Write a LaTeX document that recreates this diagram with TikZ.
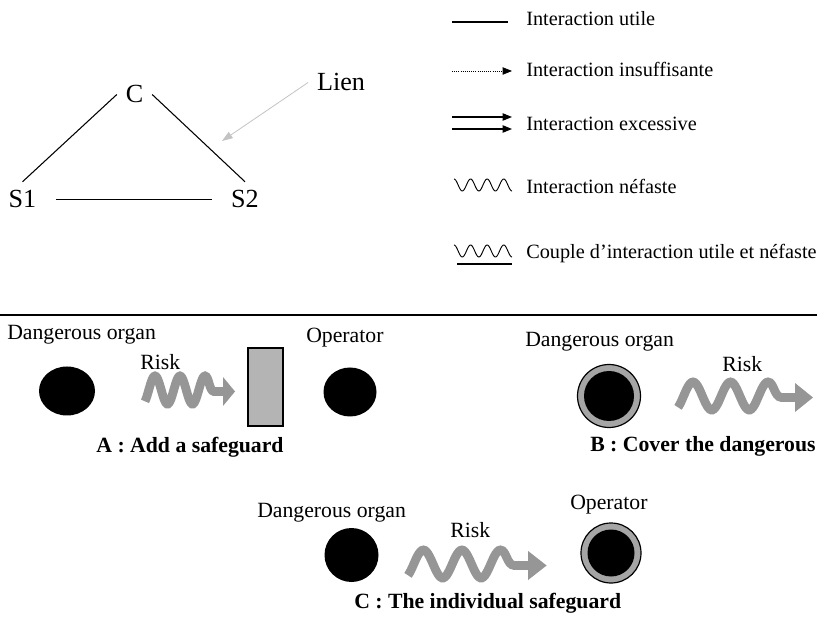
\documentclass[tikz,border=0pt]{standalone}
\usepackage{fontspec}
\setmainfont{Liberation Serif}
\usepackage{tikz}
\usepackage{xcolor}
\usetikzlibrary{arrows.meta,positioning}

\definecolor{riskgray}{RGB}{150,150,150}
\definecolor{guardgray}{RGB}{180,180,180}
\definecolor{ringgray}{RGB}{165,165,165}
\definecolor{liengray}{RGB}{195,195,195}

\tikzset{
  bigtext/.style={font=\fontsize{19.6}{23}\selectfont, inner sep=6.5pt},
  legtext/.style={font=\fontsize{15.2}{18}\selectfont, inner sep=0pt, anchor=base west},
  lowtext/.style={font=\fontsize{16.3}{19}\selectfont, inner sep=0pt, anchor=base west},
  captext/.style={font=\fontsize{16.3}{19}\selectfont\bfseries, inner sep=0pt, anchor=base west},
  legtip/.style={-{Triangle[length=7pt,width=5.5pt]}},
  % risk: thick grey wave ending in a flat arrow
  riskwave/.pic={
    \draw[riskgray, line width=6.6pt] plot[domain=0:60, samples=61, smooth] (\x,{-14*cos(14.4*(\x-10))})
      .. controls (64,-14) and (64,1) .. (69,1.5) -- (79,1.5);
    \fill[riskgray] (78,-13) -- (90,1.5) -- (78,16) -- cycle;
  }
}

\begin{document}
\begin{tikzpicture}[x=0.75pt, y=-0.75pt]
    \useasboundingbox (0,0) rectangle (817,630);

    % triangle C - S1 - S2
    \node[bigtext, anchor=base] (C) at (134.5,103) {C};
    \node[bigtext, anchor=base] (S1) at (22.5,208) {S1};
    \node[bigtext, anchor=base] (S2) at (245,208) {S2};
    \node[bigtext, anchor=base] (lien) at (341,91) {Lien};
    \coordinate (lientip) at (222,141);

    \draw[line width=0.8pt] (C.west) -- (S1.north);
    \draw[line width=0.8pt] (C.east) -- (S2.north);
    \draw[line width=0.8pt, shorten <=8pt, shorten >=8pt] (S1.east) -- (S2.west);
    \draw[liengray, line width=0.6pt, -{Triangle[length=8pt,width=5.5pt]}] (lien.west) -- (lientip);

    % legende
    \draw[line width=0.8pt] (452,22) -- (508,22);
    \node[legtext] (utile) at (526,26) {Interaction utile};

    \draw[densely dotted, line width=0.6pt, legtip] (452,71) -- (512,71);
    \node[legtext] (insuff) at (526,77) {Interaction insuffisante};

    \draw[line width=0.8pt, legtip] (452,117) -- (512,117);
    \draw[line width=0.8pt, legtip] (452,129) -- (512,129);
    \node[legtext] (excess) at (526,131) {Interaction excessive};

    \draw[line width=0.7pt] plot[domain=0:58, samples=90, smooth] ({454+\x},{185-6*cos(21.724*\x)});
    \node[legtext] (nefaste) at (526,194) {Interaction néfaste};

    \draw[line width=0.7pt] plot[domain=0:58, samples=90, smooth] ({454+\x},{251-6*cos(21.724*\x)});
    \draw[line width=0.8pt] (457,264) -- (512,264);
    \node[legtext] (couple) at (526,259) {Couple d’interaction utile et néfaste};

    % separation
    \draw[line width=1.2pt] (0,315) -- (817,315);

    % A
    \node[lowtext] (dangerA) at (7,340) {Dangerous organ};
    \node[lowtext] (riskA) at (140,370) {Risk};
    \node[lowtext] (operA) at (306,343) {Operator};
    \fill (67,391) ellipse [x radius=28, y radius=24.5];
    \pic at (145,390) {riskwave};
    \draw[fill=guardgray, line width=0.9pt] (248,348) rectangle (283,426);
    \fill (350,392) ellipse [x radius=26.5, y radius=24.5];
    \node[captext, anchor=base] (capA) at (190,453) {A : Add a safeguard};

    % B
    \node[lowtext] (dangerB) at (525,347) {Dangerous organ};
    \node[lowtext] (riskB) at (722,372) {Risk};
    \draw[fill=ringgray, line width=0.9pt] (609,396) circle [radius=31.5];
    \fill (609,396) circle [radius=25];
    \pic[xscale=1.5] at (678,396) {riskwave};
    \node[captext] (capB) at (590,452) {B : Cover the dangerous};

    % C
    \node[lowtext] (dangerC) at (257,517) {Dangerous organ};
    \node[lowtext] (riskC) at (450,537) {Risk};
    \node[lowtext] (operC) at (570,509) {Operator};
    \fill (351.5,555) circle [radius=27];
    \pic[xscale=1.54] at (408,564) {riskwave};
    \draw[fill=ringgray, line width=0.9pt] (611,553) circle [radius=30];
    \fill (611,553) circle [radius=23.5];
    \node[captext] (capC) at (354,608) {C : The individual safeguard};
\end{tikzpicture}
\end{document}
